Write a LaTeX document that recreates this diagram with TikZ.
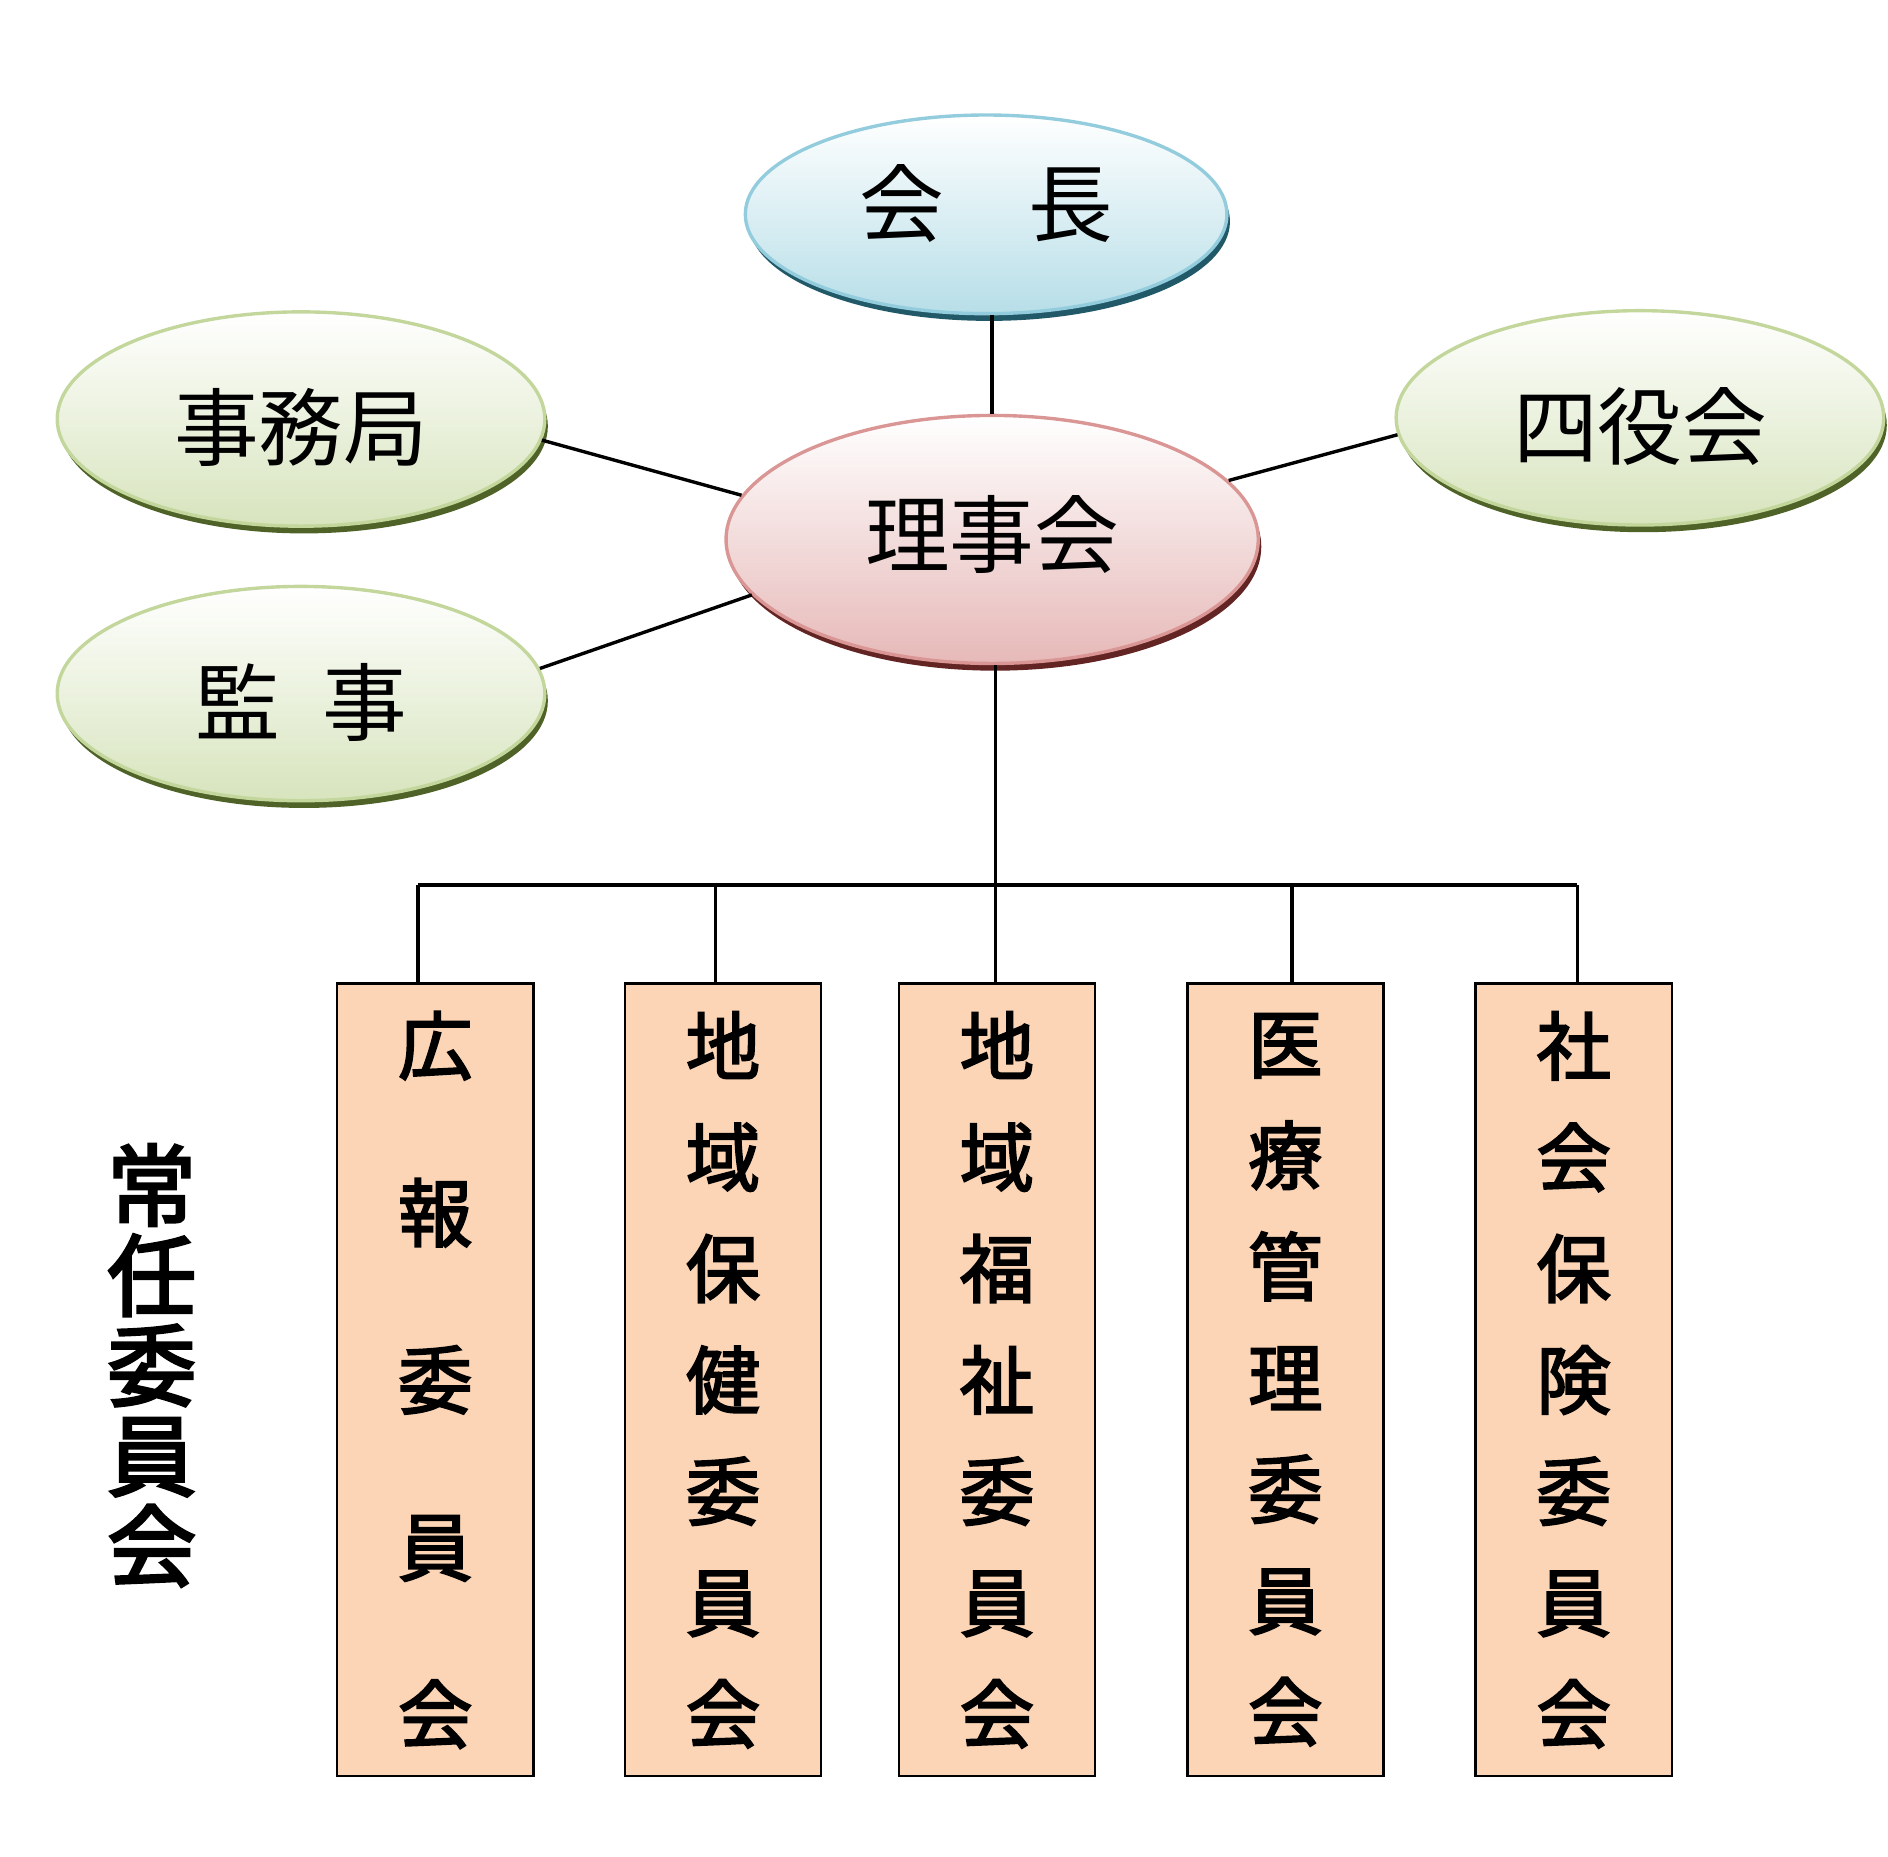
\documentclass[tikz,border=0pt]{standalone}
\usepackage{fontspec}
\usetikzlibrary{shapes.geometric,shadows}
\newfontfamily\jp{Noto Sans CJK JP}
\newfontfamily\jpthick[FakeBold=2.6]{Noto Sans CJK JP}
\newfontfamily\jpheavy[FakeBold=3.2]{Noto Sans CJK JP}
\definecolor{ovalblue}{HTML}{93CDDD}
\definecolor{fillblue}{HTML}{B7DEE8}
\definecolor{shadeblue}{HTML}{215968}
\definecolor{ovalpink}{HTML}{D99694}
\definecolor{fillpink}{HTML}{E6B9B8}
\definecolor{shadepink}{HTML}{632523}
\definecolor{ovalgreen}{HTML}{C3D69B}
\definecolor{fillgreen}{HTML}{D7E4BD}
\definecolor{shadegreen}{HTML}{4F6228}
\definecolor{boxfill}{HTML}{FBD5B5}
\begin{document}
\begin{tikzpicture}[x=0.1mm,y=-0.1mm,
  oval/.style={ellipse,inner sep=0pt,line width=0.8pt,top color=white,text depth=0pt,
    font=\jp\fontsize{20pt}{24pt}\selectfont},
  blueoval/.style={oval,draw=ovalblue,bottom color=fillblue,text height=10.1pt,
    drop shadow={shadow xshift=0.25mm,shadow yshift=-0.6mm,fill=shadeblue,opacity=1},
    minimum width=40mm,minimum height=16.5mm},
  pinkoval/.style={oval,draw=ovalpink,bottom color=fillpink,text height=12.9pt,
    drop shadow={shadow xshift=0.25mm,shadow yshift=-0.6mm,fill=shadepink,opacity=1},
    minimum width=44.2mm,minimum height=20.6mm},
  greenoval/.style={oval,draw=ovalgreen,bottom color=fillgreen,text height=19.2pt,
    drop shadow={shadow xshift=0.25mm,shadow yshift=-0.6mm,fill=shadegreen,opacity=1},
    minimum width=40.5mm,minimum height=17.8mm},
  iinkai/.style={draw,line width=0.6pt,fill=boxfill,inner sep=0pt,
    minimum width=16.3mm,minimum height=65.8mm,align=center},
  fivechar/.style={font=\jpthick\fontsize{17.6pt}{39.5pt}\selectfont},
  sevenchar/.style={font=\jpthick\fontsize{17.6pt}{26.3pt}\selectfont},
  link/.style={line width=0.8pt}]
\useasboundingbox (0,0) rectangle (1568,1542);
\node [blueoval] (kaicho) at (819,178) {会　長};
\node [pinkoval] (riji) at (824,448) {理事会};
\node [greenoval] (jimu) at (250,348) {事務局};
\node [greenoval] (kanji) at (250,576) {監\hspace{0.5em}事};
\node [greenoval] (yonyaku) at (1362,347) {四役会};
\draw [link] (riji.north |- kaicho.south) -- (riji.north);
\draw [link] (jimu.-5) -- (riji.170);
\draw [link] (kanji.6) -- (riji.193);
\draw [link] (yonyaku.184) -- (riji.14);
\coordinate (b1) at (347,735);
\coordinate (b2) at (594,735);
\coordinate (b3) at (827,735);
\coordinate (b4) at (1073,735);
\coordinate (b5) at (1310,735);
\draw [link] (b3 |- riji.south) -- (b3);
\draw [link] (b1) -- (b5);
\node [iinkai,fivechar] (koho) at (361.5,1146) {広\\報\\委\\員\\会};
\node [iinkai,sevenchar] (hoken) at (600.5,1146) {地\\域\\保\\健\\委\\員\\会};
\node [iinkai,sevenchar] (fukushi) at (828,1146) {地\\域\\福\\祉\\委\\員\\会};
\node [iinkai,sevenchar] (iryo) at (1067.5,1146) {医\\療\\管\\理\\委\\員\\会};
\node [iinkai,sevenchar] (shaho) at (1307,1146) {社\\会\\保\\険\\委\\員\\会};
\foreach \b/\n in {b1/koho,b2/hoken,b3/fukushi,b4/iryo,b5/shaho}
  \draw [link] (\b) -- (\b |- \n.north);
\node [font=\jpheavy\fontsize{21pt}{21.3pt}\selectfont,align=center] (jonin) at (126,1134) {常\\任\\委\\員\\会};
\end{tikzpicture}
\end{document}
